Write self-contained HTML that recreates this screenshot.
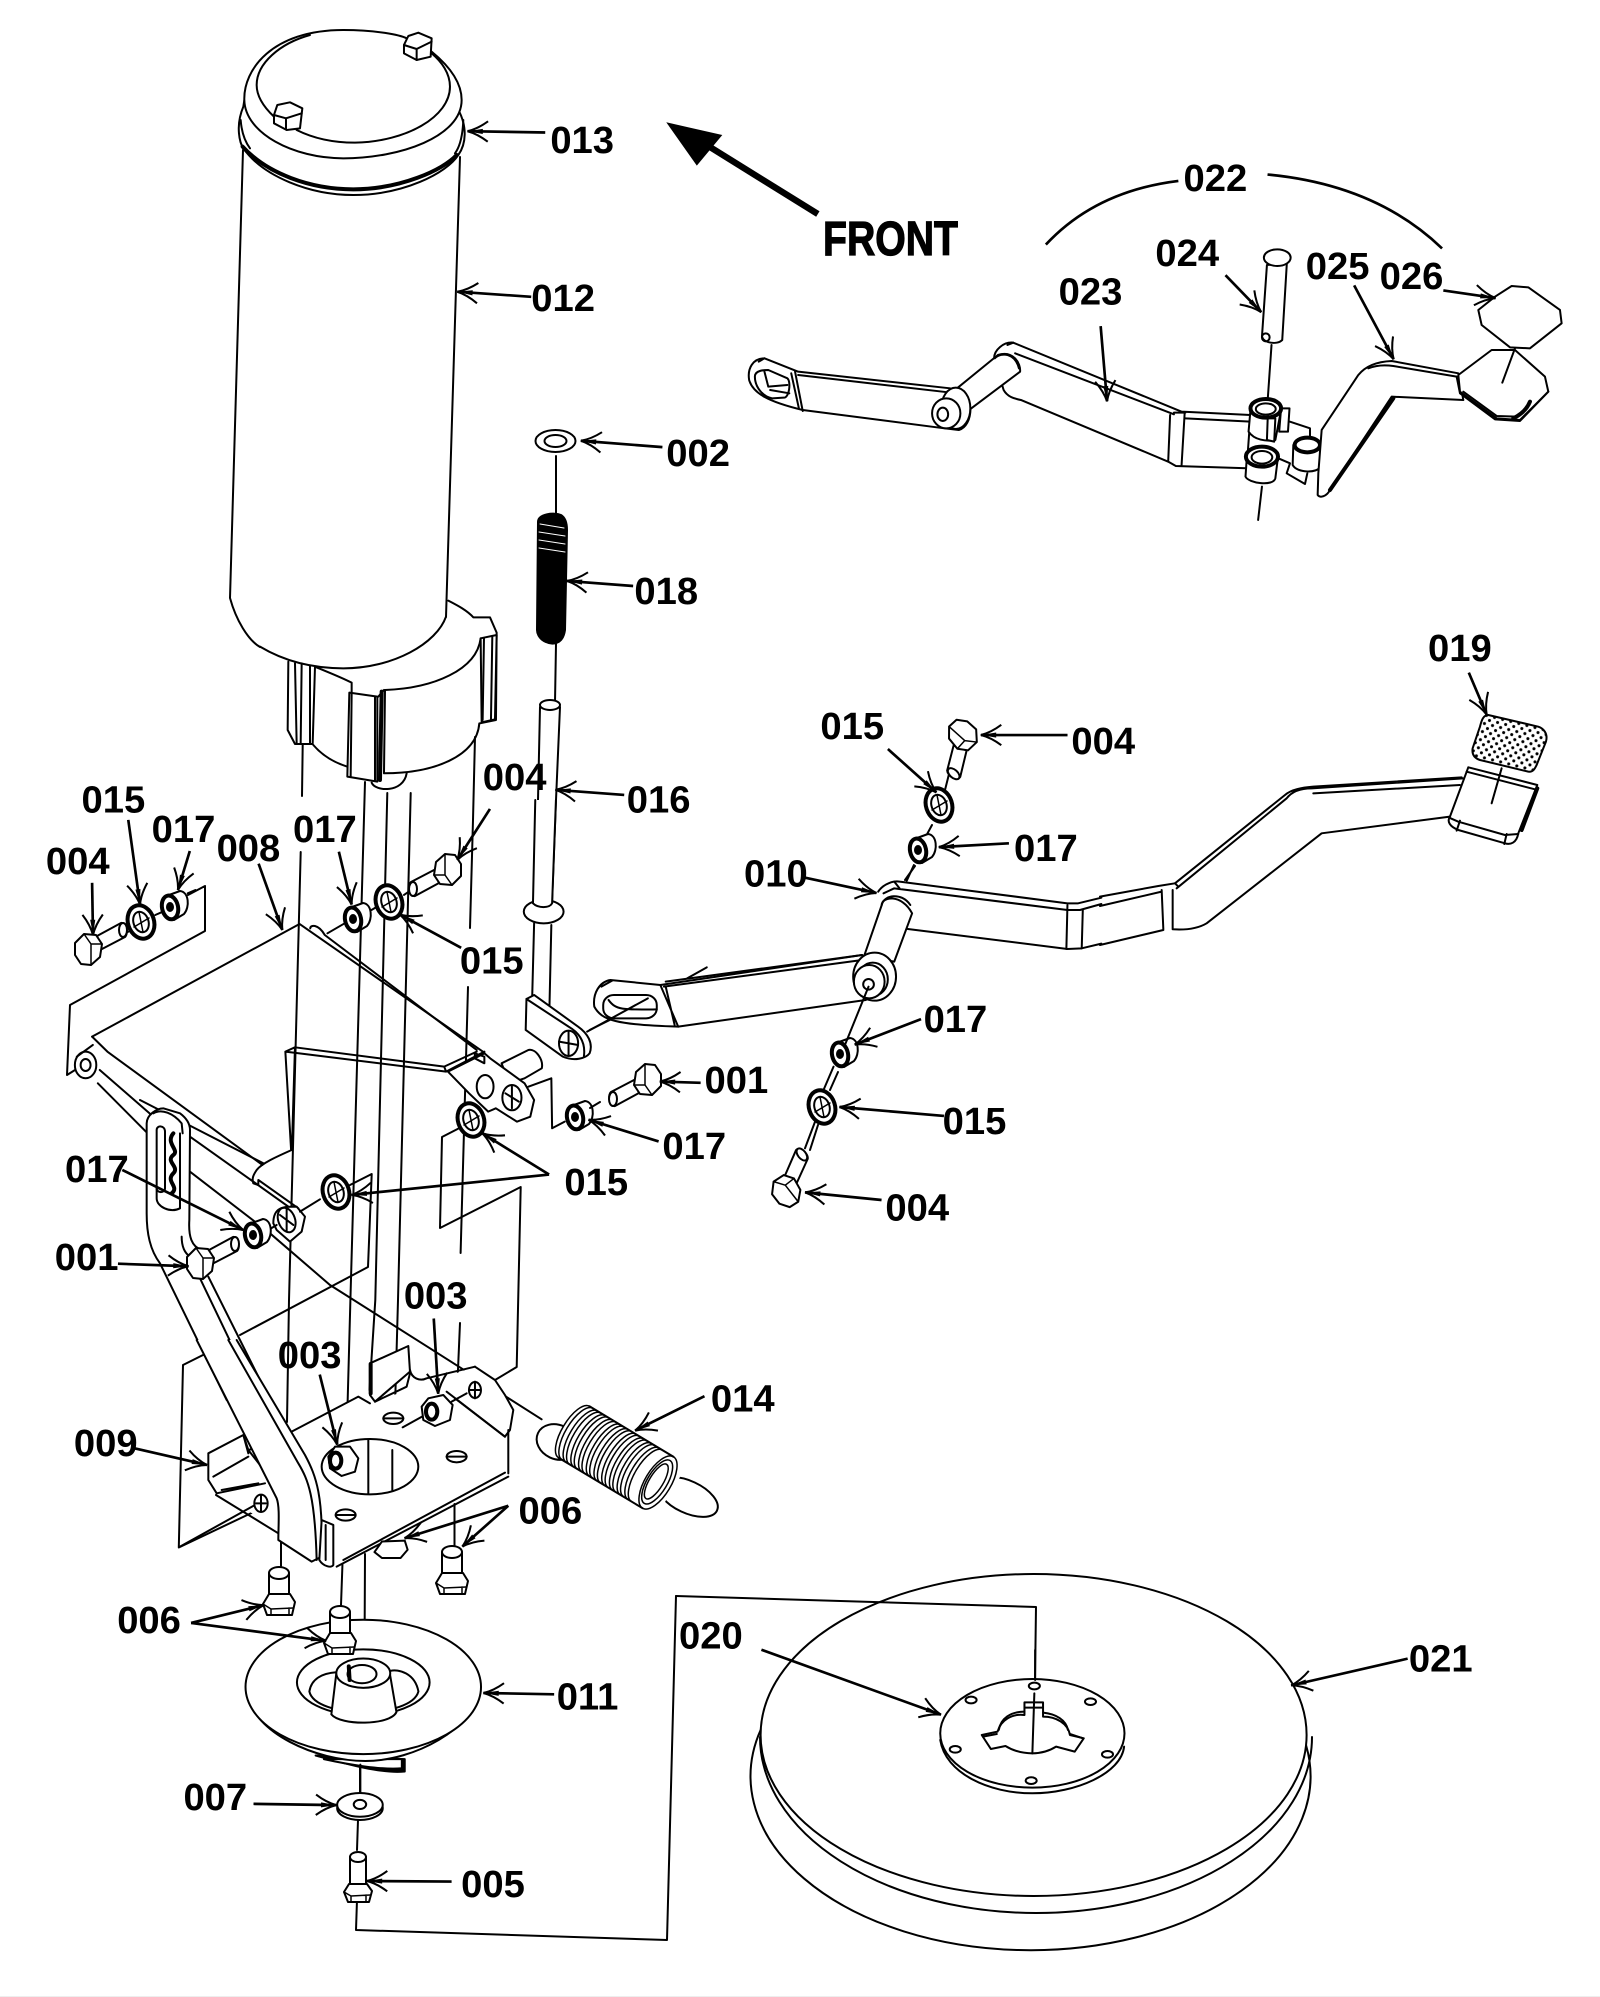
<!DOCTYPE html>
<html>
<head>
<meta charset="utf-8">
<title>Exploded parts diagram</title>
<style>
html,body{margin:0;padding:0;background:#fff}
svg{display:block}
.v *{vector-effect:non-scaling-stroke}
.v{fill:none;stroke:#000;stroke-width:2;stroke-linejoin:round;stroke-linecap:round}
.w{fill:#fff}
.t{stroke-width:4}
.k{fill:#000}
.thin{stroke-width:1.5}
.n{stroke:none}
.lab text{font-family:"Liberation Sans",sans-serif;font-weight:bold;font-size:30px;fill:#000;stroke:none}
.arr path{fill:none;stroke:#000;stroke-width:2.1}
</style>
</head>
<body>
<svg xmlns="http://www.w3.org/2000/svg" width="1600" height="1997" viewBox="0 0 1600 1997">
<defs>
<marker id="a" markerUnits="userSpaceOnUse" markerWidth="24" markerHeight="20" refX="20" refY="10" orient="auto" overflow="visible">
<path d="M4,2 Q12,8 20,10 Q12,12 4,18" fill="none" stroke="#000" stroke-width="1.6"/>
<polygon points="8,8 20,10 8,12" fill="#000"/>
</marker>
<pattern id="dots" patternUnits="userSpaceOnUse" width="25" height="25" patternTransform="rotate(14)">
<rect width="25" height="25" fill="#fff"/>
<circle cx="6" cy="6" r="4.6" fill="#000"/><circle cx="18.5" cy="18.5" r="4.6" fill="#000"/>
</pattern>
<g id="w15"><ellipse class="w t" rx="13" ry="17" transform="rotate(-18)"/><ellipse rx="7.5" ry="10.5" transform="rotate(-18)"/><path d="M-7,5 L8,-4 M-2,-10 L2,10" class="thin"/></g>
<g id="n17"><path class="w" d="M-3,-12 L8,-16 C17,-15 18,0 12,7 L2,13 Z"/><ellipse class="w t" cx="-2" rx="8" ry="12" transform="rotate(-12)"/><ellipse cx="-2" cy="0" rx="3" ry="4" class="k"/></g>
<g id="bs"><path class="w" d="M9,-13 L33,-26 C38,-27 41,-16 37,-12 L14,0 Z"/><ellipse class="w" cx="35" cy="-19" rx="4" ry="7"/><polygon class="w" points="-13,-6 -4,-15 8,-14 14,-5 12,8 3,16 -7,15 -13,6"/><path d="M-4,-15 L3,-5 L14,-5 M3,-5 L3,16" class="thin"/></g>
<g id="ub"><path class="w" d="M-10,-32 L-10,-10 L10,-10 L10,-32 Z"/><ellipse class="w" cy="-32" rx="10" ry="6"/><polygon class="w" points="-16,-1 -10,-11 11,-11 16,-3 13,10 -12,10"/><path d="M-16,-1 L-8,4 L14,3 M-8,4 L-8,10 M10,3 L10,10" class="thin"/></g>
<g id="ub5"><path class="w" d="M-8,-36 L-8,-8 L8,-8 L8,-36 Z"/><ellipse class="w" cy="-36" rx="8" ry="5"/><polygon class="w" points="-14,-1 -9,-9 9,-9 14,-2 11,9 -10,9"/><path d="M-14,-1 L-7,3 L12,2 M-7,3 L-7,9 M8,2 L8,9" class="thin"/></g>
</defs>
<rect width="1600" height="1997" fill="#fff"/>
<rect y="1996" width="1600" height="1" fill="#eee"/>

<g class="v">
<!-- assembly axis lines -->
<path d="M302.7,745 L302,796 M300.7,852 L289,1300 L287,1422 M281,1513 L281,1566"/>
<path d="M365,782 L350.4,1300 L344.6,1513 M342.5,1563 L341,1605"/>
<path d="M387.3,793 L375.3,1300 L369.5,1390 M369.5,1440 L369.5,1495 M365,1554 L364.5,1660"/>
<path d="M410.7,793 L398,1300 L395,1408 M392,1440 L392,1492"/>
<path d="M475,737 L473,820 L470,928 M468,987 L460.6,1253 M460,1323 L454.5,1451 M454.5,1504 L454.5,1547"/>
<path d="M556,456 L556,516 M556,644 L555,702"/>
<path d="M560,707 L556,800 L552,903 M540,707 L538,800 L535,903"/>
<!-- connection to disc -->
<path d="M357,1900 L356,1930 L667,1940 L676,1596"/>
<path d="M360,1765 L360,1792 M358,1820 L357,1850"/>
<!-- brackets -->
<path d="M183,1365 L178.8,1547.5 L283,1498 M183,1365 L203,1355 M240,1335 L368,1267 L371.7,1174 L350,1185"/>
<path d="M459.5,1128 L442,1137 L440,1228 L520.7,1187 L516.7,1367 L494,1380.6"/>
<path d="M205,886 L205,931 L70,1005 L67,1075 L75,1070 M205,886 L188,895"/>
</g>

<!-- cylinder -->
<g class="v">
<path d="M243,150 L230,598 C236,620 248,640 260,647"/>
<path d="M460,157 L446,617"/>
<g transform="translate(200,0) scale(.3333)">
<path class="w" d="M130,320 C105,380 120,430 130,445 C190,530 330,585 460,585 C610,585 740,520 775,465 C800,430 800,380 778,335 L778,300 L133,300 Z"/>
<path class="t" d="M128,440 C200,520 330,568 460,568 C600,568 730,510 770,465"/>
<path d="M122,360 C125,400 135,425 150,445 M790,360 C788,410 780,440 765,460"/>
<path class="w" d="M133,300 C130,210 215,90 430,90 C530,90 600,105 620,115 L695,155 C750,200 785,250 785,300 C785,410 600,475 430,475 C280,475 135,400 133,300 Z"/>
<path d="M222,350 C190,320 170,290 170,255 C170,190 240,130 330,105"/>
<path d="M290,390 C340,415 400,428 465,428 C620,425 750,350 750,260 C750,220 725,185 695,160"/>
<polygon class="w" points="612,135 625,108 655,98 695,115 692,170 650,180 612,160"/>
<path d="M612,135 L650,147 L695,125 M650,147 L650,180"/>
<polygon class="w" points="222,345 232,315 270,307 307,325 300,385 260,390 222,370"/>
<path d="M222,345 L258,355 L305,340 M258,355 L258,388"/>
</g>
<!-- motor base -->
<g transform="translate(260,560) scale(.3333)">
<path d="M558,170 C530,250 400,325 250,325 C130,325 50,290 0,260"/>
<path d="M565,122 C590,135 620,150 640,172 L690,172 L710,218 L708,480 L660,490"/>
<polygon class="w" points="662,235 710,225 705,478 665,487"/>
<path d="M672,235 L668,480 M697,228 L693,478"/>
<path d="M662,235 C650,330 520,385 375,390"/>
<path d="M85,305 L83,510 L105,552 L158,552 L165,320"/>
<path d="M105,310 L110,552 M125,310 L122,552 M150,318 L150,552"/>
<path d="M165,320 C200,335 240,350 275,368 L275,398"/>
<path d="M160,555 C190,590 230,610 262,620"/>
<path d="M335,668 C345,695 430,700 440,640"/>
<polygon class="w" points="268,398 352,410 352,665 262,650"/>
<path d="M275,400 L272,650 M345,410 L345,660 M355,410 L372,390"/>
<path class="t" d="M365,395 L360,660"/>
<path d="M375,392 L372,640 C520,640 650,590 658,490"/>
</g>
</g>

<!-- spring 018, washer 002 -->
<g class="v">
<ellipse cx="555.5" cy="441" rx="20" ry="11"/><ellipse cx="555.5" cy="441" rx="11" ry="6"/>
<path class="k" d="M538,522 C538,514 554,512 561,515 C566,518 567,525 567,530 L565,630 C563,645 552,645 546,642 C540,640 537,634 537,630 Z"/>
<path d="M540,524 L564,528 M539,532 L565,536 M539,540 L565,544 M539,548 L565,552" stroke="#fff" stroke-width="1"/>
<ellipse class="w" cx="550" cy="705" rx="10" ry="5"/>
</g>

<!-- lever plate 008 -->
<g class="v" transform="translate(50,800) scale(.3827,.3333)">
<path d="M110,710 L652,372 L1135,758"/>
<path d="M680,385 C680,375 700,370 718,405 L1115,750"/>
<path d="M725,400 L770,370 M840,330 L855,320 M925,285 L950,265 M190,403 L205,395 M275,345 L295,335 M360,280 L380,270"/>
<path d="M615,755 L640,742 L1030,800 L1035,815 L615,755 L630,1050 M640,745 L632,1050 M1035,815 L1135,755 M1030,800 L1115,755"/>
<path d="M110,710 L150,755 L555,1095"/>
<path d="M130,810 L270,950 M125,850 L255,1000"/>
<ellipse class="w" cx="93" cy="795" rx="28" ry="40"/><ellipse cx="93" cy="795" rx="13" ry="18"/>
<path d="M70,770 L112,735"/>
<!-- right ear -->
<path class="w" d="M1180,790 L1250,750 C1270,745 1290,780 1285,805 L1240,835 L1200,850 Z"/>
<path class="w" d="M1150,775 L1240,850 L1265,900 L1255,950 L1220,965 L1165,925 L1145,935 L1095,880 L1040,815 L1135,760 Z"/>
<path d="M1110,760 L1135,770 L1135,790 L1110,775 Z"/>
<ellipse class="w" cx="1137" cy="860" rx="22" ry="35"/><ellipse class="w" cx="1207" cy="893" rx="25" ry="38"/><path d="M1190,880 L1225,905 M1207,860 L1207,925"/>
<path d="M1250,860 L1310,835 L1312,985 L1345,965"/>
<!-- rod foot 016 -->
<ellipse class="w" cx="1290" cy="335" rx="52" ry="35"/>
<path class="w" d="M1268,0 L1262,310 C1275,325 1305,325 1312,310 L1322,0"/>
<path d="M1265,370 L1260,590 M1310,375 L1305,625"/>
<path class="w" d="M1245,597 L1265,585 L1380,680 C1405,700 1420,730 1410,760 C1400,775 1370,785 1340,770 L1243,690 Z"/>
<path d="M1245,597 L1355,680 C1385,700 1400,730 1395,770"/>
<ellipse class="w" cx="1355" cy="730" rx="25" ry="38"/><path d="M1330,725 L1380,735 M1355,695 L1355,765"/>
<path d="M1410,690 L1568,600"/>
</g>
<!-- lever 009 with slot -->
<g class="v" transform="translate(130,1100) scale(.3333)">
<path d="M30,0 L400,190 M180,110 L370,245 L510,345"/>
<path d="M180,215 L420,400 L600,555 L900,745 L1235,958"/>
<path d="M485,150 C440,170 395,190 380,210 C370,225 365,235 370,250 L385,255 L385,240 L505,325"/>
<path class="w n" d="M50,70 C50,45 80,25 100,25 L150,40 C170,55 180,70 180,90 L178,360 C175,410 185,440 215,450 L235,530 L420,900 L290,900 L90,490 C60,450 50,400 50,340 Z"/>
<path d="M290,900 L90,490 C60,450 50,400 50,340 L50,70 C50,45 80,25 100,25 L150,40 C170,55 180,70 180,90 L178,360 C175,410 185,440 215,450"/>
<path d="M235,530 L420,900"/>
<path d="M70,40 C95,25 130,40 155,70 L158,100"/>
<path d="M80,90 C80,75 105,75 105,95 L105,265 C105,280 80,280 80,265 Z"/>
<path d="M80,265 L80,295 C80,320 120,340 150,325 L150,100"/>
<path class="t" d="M130,100 C105,130 150,150 130,165 C105,185 150,200 130,220 C105,245 150,260 125,280"/>
<path d="M155,410 C155,440 165,460 180,470"/>
<path d="M210,535 L385,900"/>
<path class="w" d="M430,370 C430,320 460,320 500,320 L525,350 L515,395 L480,425 L440,390 Z"/>
<ellipse class="w" cx="470" cy="360" rx="25" ry="38" transform="rotate(-20 470 360)"/><path d="M450,345 L490,375 M470,325 L470,395"/>
<path d="M415,390 L440,375 M510,335 L570,298"/>
</g>
<!-- base plate -->
<g class="v" transform="translate(180,1340) scale(.3333)">
<path class="w n" d="M335,275 L535,170 L570,190 L885,80 L945,120 L1000,210 L985,400 L470,680 L395,665 L295,600 L295,560 L108,465 L85,420 L85,340 L190,285 L240,375 Z"/>
<path d="M335,275 L535,170 L570,190"/>
<path class="w" d="M570,70 L685,18 L690,95 L585,185 L570,165 Z"/>
<path d="M690,90 C695,115 720,125 740,115 L885,80"/>
<path d="M585,185 L680,140 L690,100 M800,155 L975,290"/>
<path class="t" d="M572,72 L572,160"/>
<path d="M885,80 L945,120 L975,165 L1000,210 L990,270 L975,290 L825,175"/>
<path d="M470,680 L985,410 M490,660 L975,398 M985,400 L985,270"/>
<path d="M85,340 L190,285 L205,340 M85,340 L85,420 L110,460 L255,430 M100,410 L205,350 M125,450 L235,430 M108,465 L295,580 M190,285 L205,330 L240,375 M205,330 L240,320"/>
<path d="M0,620 L225,495"/>
<ellipse class="w" cx="243" cy="490" rx="20" ry="26"/><path d="M228,490 L258,490 M243,465 L243,515"/>
<ellipse cx="570" cy="380" rx="145" ry="83" class="w"/>
<path d="M565,300 L565,460 M637,330 L637,450"/>
<ellipse class="w" cx="640" cy="235" rx="30" ry="17"/><path d="M610,235 L670,235"/>
<ellipse class="w" cx="830" cy="350" rx="30" ry="17"/><path d="M800,350 L860,350"/>
<ellipse class="w" cx="497" cy="525" rx="30" ry="17"/><path d="M467,525 L527,525"/>
<ellipse class="w" cx="885" cy="150" rx="18" ry="24"/><path d="M870,150 L902,150 M885,125 L885,175"/>
<path d="M668,262 L735,225 M815,185 L860,160"/>
<polygon class="w" points="725,200 745,175 790,165 818,195 810,240 765,258 730,240"/>
<ellipse class="t w" cx="755" cy="215" rx="17" ry="24"/>
<polygon class="w" points="445,350 465,320 510,320 535,355 525,395 485,408 450,385"/>
<ellipse class="t w" cx="467" cy="362" rx="17" ry="24"/>
<path class="w n" d="M50,0 L290,475 C300,500 295,560 295,600 L395,665 L425,650 C430,470 410,410 375,345 L170,0 Z"/>
<path d="M50,0 L290,475 C300,500 295,560 295,600 L395,665 L425,650 C430,470 410,410 375,345 L170,0"/>
<path d="M145,0 L355,370 C385,420 405,470 410,660"/>
<path class="w" d="M425,540 L460,555 L460,675 C455,685 430,680 418,660 Z"/>
<path d="M437,555 L437,660"/>
</g>
<!-- spring 014 -->
<g class="v">
<ellipse cx="557" cy="1442" rx="21" ry="17" transform="rotate(25 557 1442)"/>
<ellipse cx="688" cy="1497" rx="32" ry="16" transform="rotate(25 688 1497)"/>
<g transform="translate(574,1432) rotate(31)">
<rect class="w n" x="-12" y="-30" width="126" height="60" rx="10"/>
<path class="thin" d="M0,-30 A12,30 0 0,0 0,30 M4,-30 A12,30 0 0,0 4,30 M9,-30 A12,30 0 0,0 9,30 M13,-30 A12,30 0 0,0 13,30 M18,-30 A12,30 0 0,0 18,30 M22,-30 A12,30 0 0,0 22,30 M27,-30 A12,30 0 0,0 27,30 M31,-30 A12,30 0 0,0 31,30 M36,-30 A12,30 0 0,0 36,30 M40,-30 A12,30 0 0,0 40,30 M45,-30 A12,30 0 0,0 45,30 M49,-30 A12,30 0 0,0 49,30 M54,-30 A12,30 0 0,0 54,30 M58,-30 A12,30 0 0,0 58,30 M63,-30 A12,30 0 0,0 63,30 M67,-30 A12,30 0 0,0 67,30 M72,-30 A12,30 0 0,0 72,30 M76,-30 A12,30 0 0,0 76,30 M81,-30 A12,30 0 0,0 81,30 M85,-30 A12,30 0 0,0 85,30"/>
<path d="M0,-30 L98,-30 M0,30 L98,30"/>
<ellipse class="thin" cx="98" cy="0" rx="13" ry="30"/><ellipse class="thin" cx="97" cy="0" rx="10" ry="25"/><ellipse class="thin" cx="96" cy="0" rx="7" ry="20"/>
</g>
</g>
<!-- hub 011, bolts -->
<g class="v" transform="translate(100,1280) scale(.4146,.4572)">
<path class="k" d="M520,1040 C600,1060 680,1080 735,1075 L735,1048 Z"/>
<path class="w" d="M540,1048 C600,1060 680,1072 728,1068 L728,1048 Z"/>
<path class="w" d="M355,905 C370,990 520,1052 640,1052 C760,1052 900,980 918,900 Z"/>
<ellipse class="w" cx="635" cy="890" rx="284" ry="147"/>
<ellipse class="w" cx="635" cy="880" rx="160" ry="72"/>
<path d="M505,900 C520,960 750,960 768,900 C760,860 720,850 700,855 M505,900 C510,870 540,860 570,858"/>
<path class="w" d="M570,860 L558,950 C580,975 700,975 715,945 L698,855 Z"/>
<ellipse class="w" cx="635" cy="860" rx="65" ry="32"/><ellipse cx="632" cy="862" rx="35" ry="20"/>
<path class="t" d="M600,845 L602,875"/>
<ellipse class="w" cx="627" cy="1155" rx="55" ry="26"/><ellipse class="w" cx="627" cy="1148" rx="55" ry="26"/><ellipse cx="627" cy="1147" rx="15" ry="10"/>
<path d="M628,1060 L628,1120"/>
<polygon class="w" points="662,595 680,572 735,570 742,590 725,608 680,608"/>
</g>
<g class="v">
<use href="#ub" x="279" y="1605"/>
<use href="#ub" x="340" y="1644"/>
<use href="#ub" x="452" y="1584"/>
<use href="#ub5" x="358" y="1893"/>
</g>
<!-- small hardware -->
<g class="v">
<use href="#bs" transform="translate(88,949)"/>
<use href="#w15" x="141" y="922"/>
<use href="#n17" x="172" y="907"/>
<use href="#n17" x="355" y="919"/>
<use href="#w15" x="389" y="902"/>
<use href="#bs" transform="translate(448,870) rotate(180)"/>
<use href="#w15" x="471" y="1120"/>
<use href="#w15" x="336" y="1192"/>
<use href="#n17" x="255" y="1235"/>
<use href="#bs" transform="translate(200,1263)"/>
<use href="#n17" x="577" y="1117"/>
<use href="#bs" transform="translate(648,1080) rotate(180)"/>
<path d="M590,1108 L600,1102"/>
<path d="M952,762 L945,790 M932,825 L925,838 M915,866 L905,880 M838,1072 L830,1090 M818,1125 L810,1150"/>
<use href="#bs" transform="translate(963,735) rotate(132)"/>
<use href="#w15" x="939" y="805"/>
<use href="#n17" x="920" y="850"/>
<use href="#n17" x="842" y="1054"/>
<use href="#w15" x="822" y="1107"/>
<use href="#bs" transform="translate(786,1191) rotate(-38)"/>
</g>
<!-- pedal link and arm 010, left part -->
<g class="v" transform="translate(580,850) scale(.3571,.3333)">
<path class="w" d="M225,405 L85,390 C55,395 35,430 40,470 C60,510 100,525 275,530 L800,450 L880,400 L790,315 Z"/>
<path d="M240,395 L790,315 M235,410 L790,330 M90,392 L60,410"/>
<rect x="65" y="435" width="150" height="70" rx="30"/>
<path d="M80,450 C100,480 120,480 215,478"/>
<path d="M225,405 L275,530 M240,410 L265,525"/>
<path d="M20,545 L190,445"/>
<path class="w n" d="M835,125 C850,100 880,92 895,95 L1365,160 L1395,160 L1568,115 L1568,255 L1405,295 L1365,297 L918,237 L835,190 Z"/>
<path d="M835,125 C850,100 880,92 895,95 L1365,160 L1395,160 L1460,143"/>
<path d="M850,130 L880,115 L1365,180 L1400,180 L1460,162 M1365,165 L1362,297 M1408,180 L1405,295 M880,95 L895,115"/>
<path d="M918,237 L1365,297 L1405,295 L1460,281"/>
<path d="M915,92 L935,45"/>
<path class="w" d="M795,320 L845,165 C845,140 900,130 930,190 L880,335 Z"/>
<path d="M845,165 C850,135 900,125 925,165"/>
<ellipse class="w" cx="825" cy="380" rx="60" ry="72"/>
<ellipse cx="820" cy="388" rx="42" ry="50"/>
<ellipse class="w" cx="810" cy="395" rx="43" ry="50"/><ellipse cx="808" cy="403" rx="15" ry="16"/>
<path d="M808,410 L740,590 M710,650 L680,725 M660,810 L630,895"/>
<path d="M355,352 L300,385"/>
</g>
<!-- pedal arm, right part -->
<g class="v" transform="translate(1100,690) scale(.3333)">
<path d="M0,620 L175,588 L225,580 L235,590 M0,648 L185,605 M185,600 L190,718 M218,600 L218,718 M0,765 L190,720 M218,718 C250,720 290,718 320,700 L665,430 L1050,380"/>
<path d="M230,595 L560,325 C575,305 600,295 635,295 L1090,265 M225,580 L555,315 C575,298 605,293 640,290 L1085,262 M640,310 L1080,285"/>
<path class="w" d="M1105,232 L1312,285 L1255,430 C1250,460 1230,465 1215,460 L1075,420 C1050,410 1040,395 1050,380 Z"/>
<path d="M1100,245 L1305,298 M1052,385 L1075,395 L1215,435 L1255,432 M1080,392 L1070,422 M1220,432 L1213,462"/>
<path class="t" d="M1312,295 L1265,420"/>
<path d="M1205,235 L1175,340"/>
<path d="M1165,75 C1150,75 1145,90 1140,110 L1118,175 C1115,195 1125,205 1140,210 L1285,245 C1300,247 1305,235 1310,225 L1338,155 C1345,130 1330,115 1315,110 Z" fill="url(#dots)"/>
</g>
<!-- brake arm 023 -->
<g class="v" transform="translate(730,230) scale(.3827,.3333)">
<path class="w" d="M178,425 L90,385 C60,385 45,415 50,450 C60,490 100,515 190,540 L560,595 L598,600 C615,595 630,570 628,530 C625,500 605,478 575,475 Z"/>
<path d="M178,435 L570,487 M170,425 L190,543 M160,430 L180,535 M90,385 L75,395"/>
<path d="M65,440 C65,420 90,420 100,420 L150,445 C160,455 155,505 140,503 L110,505 C85,500 65,470 65,440 Z"/>
<path d="M90,425 L100,470 L150,465 M105,480 L155,490"/>
<path class="w" d="M690,385 C690,360 715,335 740,338 L1180,545 L1360,555 L1350,715 L1165,708 L1145,695 L760,510 C740,505 725,500 715,480 Z"/>
<path d="M725,345 L740,338 M745,370 L1160,553 M1150,555 L1145,695 M1188,550 L1180,705 M1160,548 L1190,548 M1190,565 L1360,575"/>
<path class="w" d="M590,478 L700,375 C740,360 760,400 758,425 L625,540 Z"/>
<path d="M692,385 C710,365 745,370 755,415"/>
<ellipse class="w" cx="590" cy="535" rx="38" ry="62"/>
<ellipse class="w" cx="565" cy="550" rx="37" ry="45"/><ellipse cx="556" cy="553" rx="14" ry="20"/>
<path d="M1415,345 L1405,510 M1390,770 L1380,870"/>
<path class="w" d="M1403,105 L1390,320 C1395,340 1430,345 1443,330 L1455,100 Z"/>
<ellipse class="w" cx="1430" cy="83" rx="35" ry="25"/>
<ellipse cx="1400" cy="322" rx="10" ry="12"/>
<path class="w" d="M1440,535 L1462,535 L1458,605 L1435,605 Z"/>
<path class="w" d="M1360,540 L1355,605 C1370,630 1400,635 1425,630 L1440,540 Z"/>
<ellipse class="w t" cx="1400" cy="535" rx="40" ry="28"/><ellipse cx="1400" cy="537" rx="26" ry="17"/>
<path class="w" d="M1405,565 L1425,565 L1422,635 L1403,630 Z"/>
<path class="w" d="M1350,690 L1347,740 C1355,760 1420,770 1425,745 L1432,680"/>
<ellipse class="w t" cx="1390" cy="680" rx="42" ry="30"/><ellipse cx="1390" cy="682" rx="27" ry="19"/>
</g>
<!-- 025 arm and pads -->
<g class="v" transform="translate(1250,260) scale(.3333)">
<path d="M120,485 L180,505 L180,535 M85,595 L120,610 L110,640 L165,672 L172,640"/>
<path class="w" d="M130,555 L128,615 C140,640 205,640 210,620 L212,560 Z"/>
<ellipse class="w t" cx="172" cy="555" rx="38" ry="22"/>
<path class="w" d="M215,510 L325,345 C345,320 380,305 425,303 L625,340 L640,420 L425,410 L240,690 C230,710 210,715 203,705 L205,640 Z"/>
<path d="M355,325 C380,315 410,315 430,318 L620,350"/>
<path class="t" d="M430,415 L240,690"/>
<polygon class="w" points="625,345 725,270 795,270 885,350 895,395 810,480 740,475 630,395"/>
<path d="M620,350 L630,400 L735,478 L810,483 L895,395 M640,395 L740,468 L800,470"/>
<path class="t" d="M790,475 C810,465 830,450 840,425"/>
<path d="M795,265 L757,368"/>
<polygon class="w" points="685,150 735,110 785,78 835,82 930,150 935,190 840,265 780,262 695,195"/>
</g>
<!-- disc -->
<g class="v">
<path d="M760.6,1730 A280,174 0 1 0 1306,1745"/>
<path d="M760,1737 A276,176 0 0 0 1312,1737"/>
<ellipse cx="1033.6" cy="1735" rx="273" ry="161" class="w"/>
<path d="M676,1596 L1036,1607 L1035,1680"/>
</g>
<g class="v" transform="translate(720,1560) scale(.3954,.3333)">
<path d="M557,540 C570,640 680,700 790,700 C900,700 1015,640 1022,560"/>
<ellipse class="w" cx="790" cy="520" rx="233" ry="163"/>
<ellipse cx="795" cy="378" rx="14" ry="10"/><ellipse cx="635" cy="420" rx="14" ry="10"/><ellipse cx="937" cy="425" rx="14" ry="10"/><ellipse cx="595" cy="568" rx="14" ry="10"/><ellipse cx="980" cy="583" rx="14" ry="10"/><ellipse cx="787" cy="662" rx="14" ry="10"/>
<path d="M770,427 L817,427 L817,470 C850,470 880,490 885,525 L920,535 L897,575 L850,560 C830,575 810,580 790,580 C770,580 745,575 722,558 L685,567 L662,525 L702,515 C710,480 740,460 770,465 Z"/>
<path d="M770,443 L817,443 M817,458 C850,462 875,480 880,510 M770,455 C735,455 710,475 705,510 M665,530 L700,522 M885,522 L918,535"/>
<path d="M797,270 L797,360 M795,400 L790,580"/>
</g>

<!-- arrows and labels in overview coordinates -->
<g transform="scale(1.2739)">
<g class="arr">
<path d="M428,104 L367,103" marker-end="url(#a)"/>
<path d="M417,233 L359,229" marker-end="url(#a)"/>
<path d="M962,216 L990,245" marker-end="url(#a)"/>
<path d="M864,256 L869,315" marker-end="url(#a)"/>
<path d="M1063,224 L1094,282" marker-end="url(#a)"/>
<path d="M1133,228 L1174,234" marker-end="url(#a)"/>
<path d="M520,351 L456,346" marker-end="url(#a)"/>
<path d="M497,460 L445,456" marker-end="url(#a)"/>
<path d="M490,624 L436,620" marker-end="url(#a)"/>
<path d="M1153,528 L1167,561" marker-end="url(#a)"/>
<path d="M697,588 L735,622" marker-end="url(#a)"/>
<path d="M838,577 L770,577" marker-end="url(#a)"/>
<path d="M792,662 L737,665" marker-end="url(#a)"/>
<path d="M632,689 L688,701" marker-end="url(#a)"/>
<path d="M723,800 L671,820" marker-end="url(#a)"/>
<path d="M741,876 L659,869" marker-end="url(#a)"/>
<path d="M692,942 L632,936" marker-end="url(#a)"/>
<path d="M550,850 L518,849" marker-end="url(#a)"/>
<path d="M517,896 L462,879" marker-end="url(#a)"/>
<path d="M203,678 L221.6,730" marker-end="url(#a)"/>
<path d="M72.3,693 L73,734" marker-end="url(#a)"/>
<path d="M100.7,643.6 L109.9,710" marker-end="url(#a)"/>
<path d="M149,668 L139.7,698.6" marker-end="url(#a)"/>
<path d="M266,668.6 L276,710" marker-end="url(#a)"/>
<path d="M384.6,635 L359,675" marker-end="url(#a)"/>
<path d="M362,744 L314,718" marker-end="url(#a)"/>
<path d="M431,922 L378.6,889.6" marker-end="url(#a)"/>
<path d="M431,922 L276,938" marker-end="url(#a)"/>
<path d="M96,918.4 L190.8,965.5" marker-end="url(#a)"/>
<path d="M92.6,992 L148,994" marker-end="url(#a)"/>
<path d="M340.5,1035 L344,1094" marker-end="url(#a)"/>
<path d="M251,1079 L264.7,1134" marker-end="url(#a)"/>
<path d="M553,1096 L498.6,1123" marker-end="url(#a)"/>
<path d="M106,1137 L162.5,1150" marker-end="url(#a)"/>
<path d="M399,1182 L317.6,1207.5" marker-end="url(#a)"/>
<path d="M399,1182 L363,1214" marker-end="url(#a)"/>
<path d="M150,1274 L207,1260" marker-end="url(#a)"/>
<path d="M150,1274 L256,1288" marker-end="url(#a)"/>
<path d="M435,1330 L379.5,1329" marker-end="url(#a)"/>
<path d="M199,1416 L264,1417" marker-end="url(#a)"/>
<path d="M354.5,1477 L288,1476.6" marker-end="url(#a)"/>
<path d="M597.7,1295 L738.6,1346" marker-end="url(#a)"/>
<path d="M1105,1302 L1013.6,1323" marker-end="url(#a)"/>
<path d="M821,192 Q860,150 925,142 M995,137 Q1080,145 1132,195"/>
</g>
<path d="M642,168 L555,114" stroke="#000" stroke-width="5" fill="none"/>
<polygon points="523,96 567,106 547,130" fill="#000"/>
<g class="lab">
<text x="432" y="120">013</text>
<text x="417" y="244">012</text>
<text x="929" y="150">022</text>
<text x="907" y="209">024</text>
<text x="831" y="239">023</text>
<text x="1025" y="219">025</text>
<text x="1083" y="227">026</text>
<text x="523" y="366">002</text>
<text x="498" y="474">018</text>
<text x="492" y="638">016</text>
<text x="1121" y="519">019</text>
<text x="644" y="580">015</text>
<text x="841" y="592">004</text>
<text x="796" y="676">017</text>
<text x="584" y="696">010</text>
<text x="725" y="810">017</text>
<text x="740" y="890">015</text>
<text x="695" y="958">004</text>
<text x="553" y="858">001</text>
<text x="520" y="910">017</text>
<text x="443" y="938">015</text>
<text x="361" y="764">015</text>
<text x="379" y="620">004</text>
<text x="64" y="638">015</text>
<text x="119" y="661">017</text>
<text x="36" y="686">004</text>
<text x="170" y="676">008</text>
<text x="230" y="661">017</text>
<text x="51" y="928">017</text>
<text x="43" y="997">001</text>
<text x="317" y="1027">003</text>
<text x="218" y="1074">003</text>
<text x="558" y="1108">014</text>
<text x="58" y="1143">009</text>
<text x="407" y="1196">006</text>
<text x="92" y="1282">006</text>
<text x="437" y="1342">011</text>
<text x="144" y="1421">007</text>
<text x="362" y="1489">005</text>
<text x="533" y="1294">020</text>
<text x="1106" y="1312">021</text>
</g>
</g>
<text x="823" y="255" font-family="'Liberation Sans',sans-serif" font-weight="bold" font-size="48" textLength="135" lengthAdjust="spacingAndGlyphs" fill="#000" stroke="#000" stroke-width="1.2">FRONT</text>
</svg>
</body>
</html>
